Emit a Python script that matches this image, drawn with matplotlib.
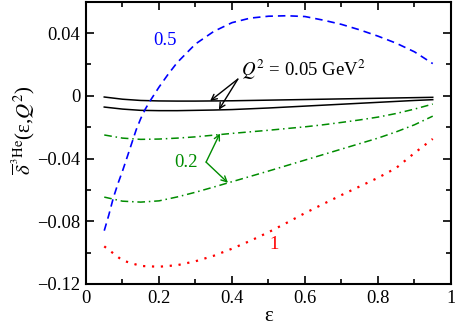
import matplotlib
matplotlib.use("Agg")
import matplotlib.pyplot as plt
from matplotlib.ticker import MultipleLocator, FixedLocator, FixedFormatter

plt.rcParams['font.family'] = ['Liberation Serif', 'DejaVu Serif']
plt.rcParams['mathtext.fontset'] = 'stix'

# data
eps = [0.05, 0.1, 0.15, 0.2, 0.25, 0.3, 0.35, 0.4, 0.45, 0.5, 0.55, 0.6, 0.65, 0.7, 0.75, 0.8, 0.85, 0.9, 0.95]
q005_upper = [-0.0008, -0.0022, -0.0030, -0.0033, -0.0034, -0.0034, -0.0033, -0.0032, -0.0030, -0.0028, -0.0026, -0.0024, -0.0022, -0.0020, -0.0018, -0.0016, -0.0014, -0.0012, -0.0010]
q005_lower = [-0.0072, -0.0085, -0.0093, -0.0095, -0.0095, -0.0093, -0.0091, -0.0088, -0.0083, -0.0078, -0.0072, -0.0066, -0.0060, -0.0054, -0.0048, -0.0042, -0.0036, -0.0030, -0.0025]
q02_upper = [-0.0250, -0.0270, -0.0278, -0.0276, -0.0270, -0.0262, -0.0251, -0.0240, -0.0230, -0.0220, -0.0209, -0.0198, -0.0185, -0.0170, -0.0154, -0.0136, -0.0113, -0.0085, -0.0053]
q02_lower = [-0.0646, -0.0672, -0.0678, -0.0670, -0.0645, -0.0615, -0.0582, -0.0548, -0.0514, -0.0480, -0.0445, -0.0410, -0.0375, -0.0340, -0.0305, -0.0270, -0.0230, -0.0185, -0.0130]
eps_q05 = [0.05, 0.0625, 0.075, 0.0875, 0.1, 0.1125, 0.125, 0.1375, 0.15, 0.1625, 0.175, 0.2, 0.225, 0.25, 0.3, 0.35, 0.4, 0.45, 0.5, 0.55, 0.6, 0.65, 0.7, 0.75, 0.8, 0.85, 0.9, 0.95]
q05 = [-0.0860, -0.0760, -0.0650, -0.0560, -0.0480, -0.0393, -0.0305, -0.0217, -0.0145, -0.0085, -0.0035, 0.0055, 0.0137, 0.0212, 0.0330, 0.0410, 0.0466, 0.0495, 0.0507, 0.0510, 0.0505, 0.0482, 0.0455, 0.0420, 0.0380, 0.0335, 0.0280, 0.0205]
q1 = [-0.0960, -0.1050, -0.1085, -0.1090, -0.1080, -0.1055, -0.1020, -0.0975, -0.0925, -0.0870, -0.0810, -0.0748, -0.0690, -0.0633, -0.0578, -0.0523, -0.0460, -0.0365, -0.0275]

xticks = [0, 0.2, 0.4, 0.6, 0.8, 1]
xticklabels = ['0', '0.2', '0.4', '0.6', '0.8', '1']
yticks = [-0.12, -0.08, -0.04, 0, 0.04]
yticklabels = ['\u22120.12', '\u22120.08', '\u22120.04', '0', '0.04']

blue = '#0000ff'
green = '#008c00'
red = '#ff0000'

fig = plt.figure(figsize=(4.56, 3.27), dpi=100)
ax = fig.add_axes([0.1886, 0.1315, 0.8004, 0.8635])

ax.plot(eps, q005_upper, color='black', lw=1.1)
ax.plot(eps, q005_lower, color='black', lw=1.1)
ax.plot(eps, q02_upper, color=green, lw=1.1, linestyle=(0, (5, 2.5, 1, 2.5)))
ax.plot(eps, q02_lower, color=green, lw=1.1, linestyle=(0, (5, 2.5, 1, 2.5)))
ax.plot(eps_q05, q05, color=blue, lw=1.2, linestyle=(0, (4.5, 3)))
ax.plot(eps, q1, color=red, lw=1.6, linestyle=(0, (1, 3)))

ax.set_xlim(0, 1)
ax.set_ylim(-0.12, 0.06)
ax.xaxis.set_major_locator(FixedLocator(xticks))
ax.xaxis.set_major_formatter(FixedFormatter(xticklabels))
ax.yaxis.set_major_locator(FixedLocator(yticks))
ax.yaxis.set_major_formatter(FixedFormatter(yticklabels))
ax.xaxis.set_minor_locator(MultipleLocator(0.1))
ax.yaxis.set_minor_locator(MultipleLocator(0.02))
ax.tick_params(which='both', direction='in', top=True, right=True, width=1.2, labelsize=13.3)
ax.tick_params(which='major', length=6, pad=4)
ax.tick_params(which='minor', length=3.5)
for s in ax.spines.values():
    s.set_linewidth(1.5)

ax.set_xlabel('\u03b5', fontsize=15, labelpad=0)
ax.set_ylabel(r'$\overline{\delta}^{\,^{3}\mathrm{He}}$' + '(\u03b5,' + r'$Q^{2}$)', fontsize=15)
ax.yaxis.set_label_coords(-0.135, 0.545)

# annotations
ax.text(0.216, 0.0355, '0.5', color=blue, fontsize=13.5, ha='center', va='center')
ax.text(0.425, 0.0164, r'$Q^{2}$ = 0.05 GeV$^{2}$', color='black', fontsize=13.5, ha='left', va='center')
ax.annotate('', xy=(0.340, -0.0033), xytext=(0.416, 0.0106),
            arrowprops=dict(arrowstyle='->', color='black', lw=1.0, shrinkA=0, shrinkB=0))
ax.annotate('', xy=(0.364, -0.0089), xytext=(0.416, 0.0106),
            arrowprops=dict(arrowstyle='->', color='black', lw=1.0, shrinkA=0, shrinkB=0))
ax.text(0.274, -0.0423, '0.2', color=green, fontsize=13.5, ha='center', va='center')
ax.annotate('', xy=(0.367, -0.0240), xytext=(0.329, -0.0423),
            arrowprops=dict(arrowstyle='->', color=green, lw=1.0, shrinkA=0, shrinkB=0))
ax.annotate('', xy=(0.389, -0.0555), xytext=(0.329, -0.0423),
            arrowprops=dict(arrowstyle='->', color=green, lw=1.0, shrinkA=0, shrinkB=0))
ax.text(0.515, -0.095, '1', color=red, fontsize=13.5, ha='center', va='center')

fig.savefig('out.png', dpi=100)
